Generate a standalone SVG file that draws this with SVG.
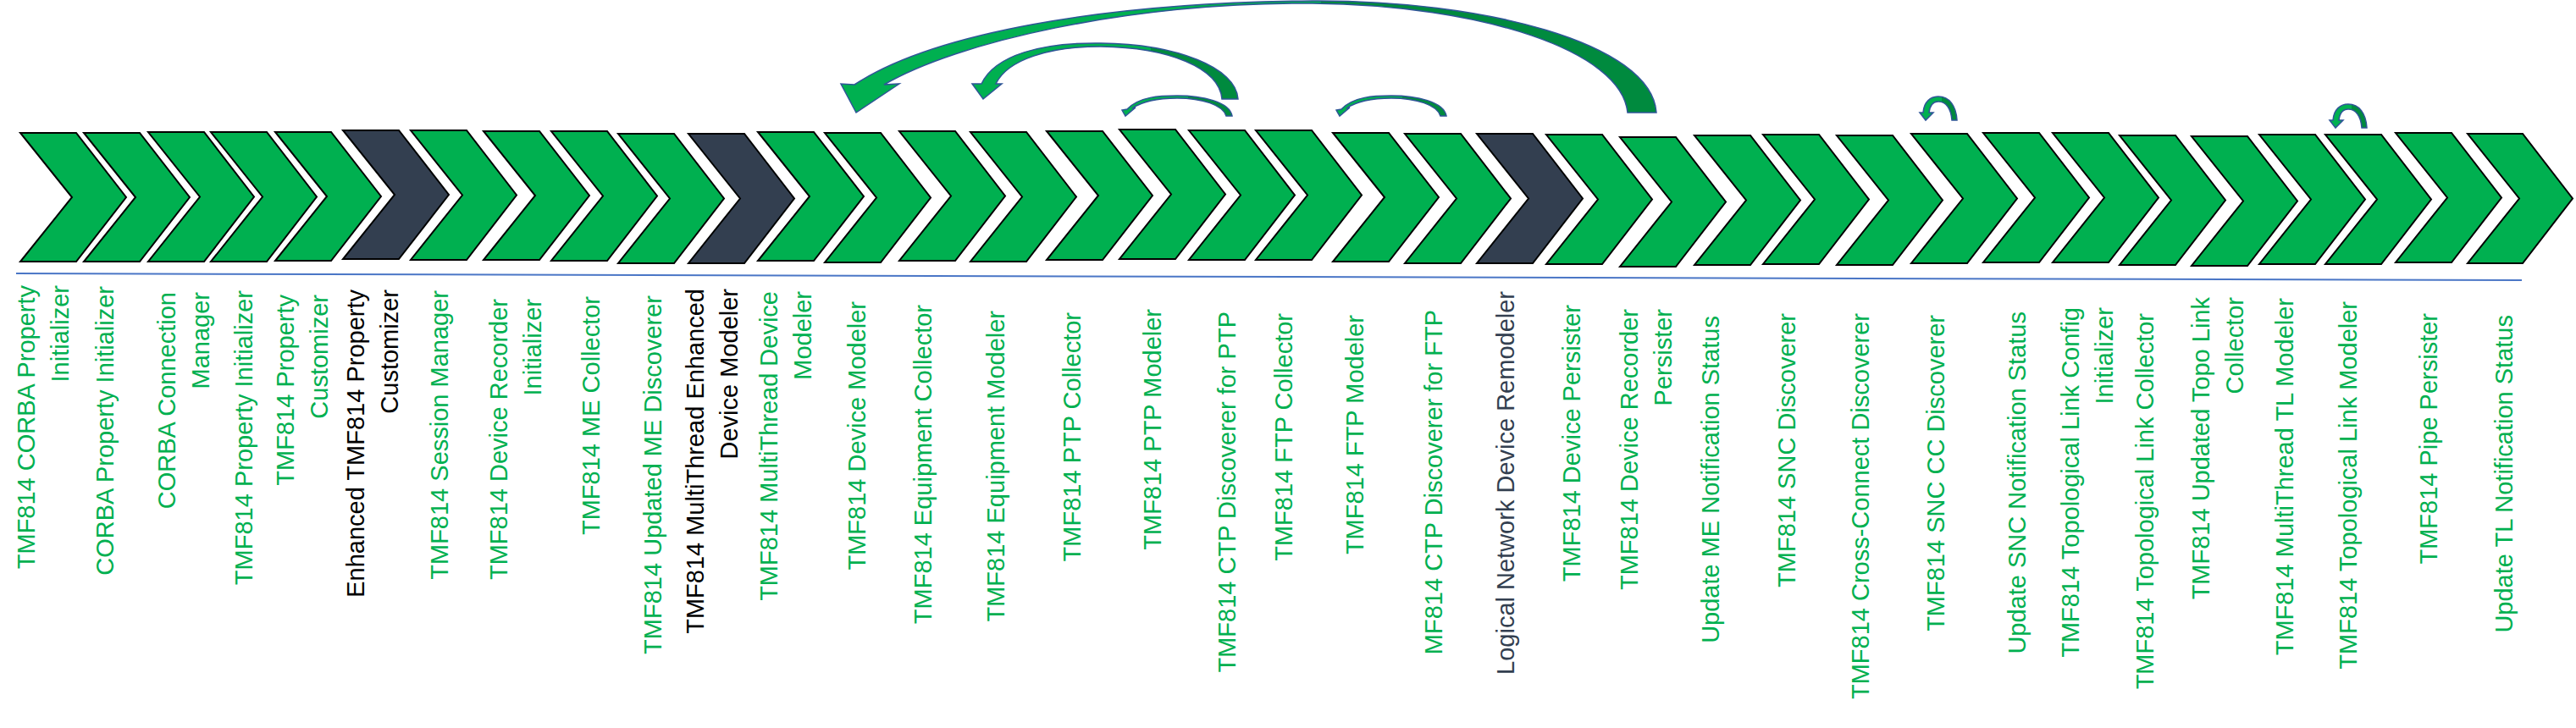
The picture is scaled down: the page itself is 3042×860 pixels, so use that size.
<svg xmlns="http://www.w3.org/2000/svg" width="3042" height="860" viewBox="0 0 3042 860">
<style>
.chev{stroke:#000;stroke-width:2;stroke-linejoin:miter}
.g{fill:#00B050}
.d{fill:#333F50}
.lbl{font-family:"Liberation Sans",Arial,sans-serif;font-size:29px;text-anchor:end}
.tg{fill:#00B050}
.tk{fill:#000}
.td{fill:#333F50}
.arr{stroke:#2F5597;stroke-width:1.5;stroke-linejoin:miter}
</style>
<defs>
<linearGradient id="gBig" gradientUnits="userSpaceOnUse" x1="990" y1="0" x2="1960" y2="0">
<stop offset="0" stop-color="#00B050"/><stop offset="0.588" stop-color="#00B050"/><stop offset="0.588" stop-color="#008A3E"/><stop offset="1" stop-color="#008A3E"/>
</linearGradient>
<linearGradient id="gMed" gradientUnits="userSpaceOnUse" x1="1145" y1="0" x2="1465" y2="0">
<stop offset="0" stop-color="#00B050"/><stop offset="0.67" stop-color="#00B050"/><stop offset="0.67" stop-color="#008A3E"/><stop offset="1" stop-color="#008A3E"/>
</linearGradient>
<linearGradient id="gSm" x1="0" y1="0" x2="1" y2="0">
<stop offset="0" stop-color="#00B050"/><stop offset="0.6" stop-color="#00B050"/><stop offset="0.6" stop-color="#008A3E"/><stop offset="1" stop-color="#008A3E"/>
</linearGradient>
<path id="smallArc" d="M1331,129 C1345,114 1370,113 1390,113 C1420,113 1452,120 1455,137 L1448,137 C1444,124 1420,116 1390,116 C1370,116 1350,119 1337,128 L1341,127 L1329,137 L1325,130 Z"/>
<path id="loopArc" d="M2271,133 C2272,120 2280,114 2289,114 C2302,114 2310,125 2311,142 L2305,142 C2304,128 2298,120 2289,120 C2283,120 2279,125 2278,133 L2283,133 L2274,142 L2267,133 Z"/>
</defs>
<rect width="3042" height="860" fill="#fff"/>
<g id="chevrons">
<g id="n1"><path class="chev g" d="M24,157 L90,157 L149,233 L90,309 L24,309 L85,233 Z"/></g>
<g id="n2"><path class="chev g" d="M99,157 L165,157 L224,233 L165,309 L99,309 L160,233 Z"/></g>
<g id="n3"><path class="chev g" d="M175,156 L241,156 L300,232.5 L241,309 L175,309 L236,232.5 Z"/></g>
<g id="n4"><path class="chev g" d="M249,156 L315,156 L374,232.5 L315,309 L249,309 L310,232.5 Z"/></g>
<g id="n5"><path class="chev g" d="M325,156 L391,156 L450,232 L391,308 L325,308 L386,232 Z"/></g>
<g id="n6"><path class="chev d" d="M405,154 L471,154 L530,230 L471,306 L405,306 L466,230 Z"/></g>
<g id="n7"><path class="chev g" d="M485,154 L551,154 L610,230.5 L551,307 L485,307 L546,230.5 Z"/></g>
<g id="n8"><path class="chev g" d="M571,155 L637,155 L696,231 L637,307 L571,307 L632,231 Z"/></g>
<g id="n9"><path class="chev g" d="M651,155 L717,155 L776,231.5 L717,308 L651,308 L712,231.5 Z"/></g>
<g id="n10"><path class="chev g" d="M730,158 L796,158 L855,234.5 L796,311 L730,311 L791,234.5 Z"/></g>
<g id="n11"><path class="chev d" d="M813,158 L879,158 L938,234.5 L879,311 L813,311 L874,234.5 Z"/></g>
<g id="n12"><path class="chev g" d="M895,156 L961,156 L1020,232 L961,308 L895,308 L956,232 Z"/></g>
<g id="n13"><path class="chev g" d="M974,157 L1040,157 L1099,233.5 L1040,310 L974,310 L1035,233.5 Z"/></g>
<g id="n14"><path class="chev g" d="M1062,155 L1128,155 L1187,231.5 L1128,308 L1062,308 L1123,231.5 Z"/></g>
<g id="n15"><path class="chev g" d="M1146,156 L1212,156 L1271,232.5 L1212,309 L1146,309 L1207,232.5 Z"/></g>
<g id="n16"><path class="chev g" d="M1236,155 L1302,155 L1361,231 L1302,307 L1236,307 L1297,231 Z"/></g>
<g id="n17"><path class="chev g" d="M1322,153 L1388,153 L1447,229.5 L1388,306 L1322,306 L1383,229.5 Z"/></g>
<g id="n18"><path class="chev g" d="M1404,154 L1470,154 L1529,230.5 L1470,307 L1404,307 L1465,230.5 Z"/></g>
<g id="n19"><path class="chev g" d="M1483,154 L1549,154 L1608,230.5 L1549,307 L1483,307 L1544,230.5 Z"/></g>
<g id="n20"><path class="chev g" d="M1574,157 L1640,157 L1699,233 L1640,309 L1574,309 L1635,233 Z"/></g>
<g id="n21"><path class="chev g" d="M1659,158 L1725,158 L1784,234.5 L1725,311 L1659,311 L1720,234.5 Z"/></g>
<g id="n22"><path class="chev d" d="M1744,158 L1810,158 L1869,234.5 L1810,311 L1744,311 L1805,234.5 Z"/></g>
<g id="n23"><path class="chev g" d="M1826,159 L1892,159 L1951,235.5 L1892,312 L1826,312 L1887,235.5 Z"/></g>
<g id="n24"><path class="chev g" d="M1913,162 L1979,162 L2038,238.5 L1979,315 L1913,315 L1974,238.5 Z"/></g>
<g id="n25"><path class="chev g" d="M2001,160 L2067,160 L2126,236.5 L2067,313 L2001,313 L2062,236.5 Z"/></g>
<g id="n26"><path class="chev g" d="M2082,159 L2148,159 L2207,235.5 L2148,312 L2082,312 L2143,235.5 Z"/></g>
<g id="n27"><path class="chev g" d="M2169,160 L2235,160 L2294,236.5 L2235,313 L2169,313 L2230,236.5 Z"/></g>
<g id="n28"><path class="chev g" d="M2257,158 L2323,158 L2382,234.5 L2323,311 L2257,311 L2318,234.5 Z"/></g>
<g id="n29"><path class="chev g" d="M2342,157 L2408,157 L2467,233.5 L2408,310 L2342,310 L2403,233.5 Z"/></g>
<g id="n30"><path class="chev g" d="M2424,157 L2490,157 L2549,233.5 L2490,310 L2424,310 L2485,233.5 Z"/></g>
<g id="n31"><path class="chev g" d="M2503,160 L2569,160 L2628,236.5 L2569,313 L2503,313 L2564,236.5 Z"/></g>
<g id="n32"><path class="chev g" d="M2588,161 L2654,161 L2713,237.5 L2654,314 L2588,314 L2649,237.5 Z"/></g>
<g id="n33"><path class="chev g" d="M2668,159 L2734,159 L2793,235.5 L2734,312 L2668,312 L2729,235.5 Z"/></g>
<g id="n34"><path class="chev g" d="M2746,159 L2812,159 L2871,235.5 L2812,312 L2746,312 L2807,235.5 Z"/></g>
<g id="n35"><path class="chev g" d="M2829,157 L2895,157 L2954,233.5 L2895,310 L2829,310 L2890,233.5 Z"/></g>
<g id="n36"><path class="chev g" d="M2914,158 L2979,158 L3038,234.5 L2979,311 L2914,311 L2975,234.5 Z"/></g>
</g>
<g id="separator"><line x1="19" y1="323" x2="2978" y2="331" stroke="#4A76C6" stroke-width="2"/></g>
<g id="labels">
<g id="t1"><text class="lbl tg" transform="translate(41,337) rotate(-90)"><tspan x="0" y="0">TMF814 CORBA Property</tspan><tspan x="0" y="40">Initializer</tspan></text></g>
<g id="t2"><text class="lbl tg" transform="translate(134,338) rotate(-90)">CORBA Property Initializer</text></g>
<g id="t3"><text class="lbl tg" transform="translate(207,345) rotate(-90)"><tspan x="0" y="0">CORBA Connection</tspan><tspan x="0" y="40">Manager</tspan></text></g>
<g id="t4"><text class="lbl tg" transform="translate(298,343) rotate(-90)">TMF814 Property Initializer</text></g>
<g id="t5"><text class="lbl tg" transform="translate(347,348) rotate(-90)"><tspan x="0" y="0">TMF814 Property</tspan><tspan x="0" y="40">Customizer</tspan></text></g>
<g id="t6"><text class="lbl tk" transform="translate(430,342) rotate(-90)"><tspan x="0" y="0">Enhanced TMF814 Property</tspan><tspan x="0" y="40">Customizer</tspan></text></g>
<g id="t7"><text class="lbl tg" transform="translate(529,343) rotate(-90)">TMF814 Session Manager</text></g>
<g id="t8"><text class="lbl tg" transform="translate(599,353) rotate(-90)"><tspan x="0" y="0">TMF814 Device Recorder</tspan><tspan x="0" y="40">Initializer</tspan></text></g>
<g id="t9"><text class="lbl tg" transform="translate(708,350) rotate(-90)">TMF814 ME Collector</text></g>
<g id="t10"><text class="lbl tg" transform="translate(781,349) rotate(-90)">TMF814 Updated ME Discoverer</text></g>
<g id="t11"><text class="lbl tk" transform="translate(831,341) rotate(-90)"><tspan x="0" y="0">TMF814 MultiThread Enhanced</tspan><tspan x="0" y="40">Device Modeler</tspan></text></g>
<g id="t12"><text class="lbl tg" transform="translate(918,344) rotate(-90)"><tspan x="0" y="0">TMF814 MultiThread Device</tspan><tspan x="0" y="40">Modeler</tspan></text></g>
<g id="t13"><text class="lbl tg" transform="translate(1022,356) rotate(-90)">TMF814 Device Modeler</text></g>
<g id="t14"><text class="lbl tg" transform="translate(1100,360) rotate(-90)">TMF814 Equipment Collector</text></g>
<g id="t15"><text class="lbl tg" transform="translate(1186,367) rotate(-90)">TMF814 Equipment Modeler</text></g>
<g id="t16"><text class="lbl tg" transform="translate(1276,369) rotate(-90)">TMF814 PTP Collector</text></g>
<g id="t17"><text class="lbl tg" transform="translate(1371,365) rotate(-90)">TMF814 PTP Modeler</text></g>
<g id="t18"><text class="lbl tg" transform="translate(1459,368) rotate(-90)">TMF814 CTP Discoverer for PTP</text></g>
<g id="t19"><text class="lbl tg" transform="translate(1526,370) rotate(-90)">TMF814 FTP Collector</text></g>
<g id="t20"><text class="lbl tg" transform="translate(1610,372) rotate(-90)">TMF814 FTP Modeler</text></g>
<g id="t21"><text class="lbl tg" transform="translate(1703,366) rotate(-90)">MF814 CTP Discoverer for FTP</text></g>
<g id="t22"><text class="lbl td" transform="translate(1788,344) rotate(-90)">Logical Network Device Remodeler</text></g>
<g id="t23"><text class="lbl tg" transform="translate(1866,360) rotate(-90)">TMF814 Device Persister</text></g>
<g id="t24"><text class="lbl tg" transform="translate(1934,365) rotate(-90)"><tspan x="0" y="0">TMF814 Device Recorder</tspan><tspan x="0" y="40">Persister</tspan></text></g>
<g id="t25"><text class="lbl tg" transform="translate(2030,373) rotate(-90)">Update ME Notification Status</text></g>
<g id="t26"><text class="lbl tg" transform="translate(2120,370) rotate(-90)">TMF814 SNC Discoverer</text></g>
<g id="t27"><text class="lbl tg" transform="translate(2207,370) rotate(-90)">TMF814 Cross-Connect Discoverer</text></g>
<g id="t28"><text class="lbl tg" transform="translate(2296,372) rotate(-90)">TMF814 SNC CC Discoverer</text></g>
<g id="t29"><text class="lbl tg" transform="translate(2392,368) rotate(-90)">Update SNC Notification Status</text></g>
<g id="t30"><text class="lbl tg" transform="translate(2455,363) rotate(-90)"><tspan x="0" y="0">TMF814 Topological Link Config</tspan><tspan x="0" y="40">Initializer</tspan></text></g>
<g id="t31"><text class="lbl tg" transform="translate(2543,370) rotate(-90)">TMF814 Topological Link Collector</text></g>
<g id="t32"><text class="lbl tg" transform="translate(2609,351) rotate(-90)"><tspan x="0" y="0">TMF814 Updated Topo Link</tspan><tspan x="0" y="40">Collector</tspan></text></g>
<g id="t33"><text class="lbl tg" transform="translate(2708,352) rotate(-90)">TMF814 MultiThread TL Modeler</text></g>
<g id="t34"><text class="lbl tg" transform="translate(2783,356) rotate(-90)">TMF814 Topological Link Modeler</text></g>
<g id="t35"><text class="lbl tg" transform="translate(2878,370) rotate(-90)">TMF814 Pipe Persister</text></g>
<g id="t36"><text class="lbl tg" transform="translate(2967,372) rotate(-90)">Update TL Notification Status</text></g>
</g>
<g id="connectors">
<path id="a-big" class="arr" fill="url(#gBig)" d="M1009,100 C1100,40 1300,3 1550,1 C1750,0 1950,50 1956,133 L1922,133 C1915,60 1750,6 1550,4 C1330,3 1130,50 1044,100 L1062,99 L1011,133 L993,99 Z"/>
<path id="a-med" class="arr" fill="url(#gMed)" d="M1159,99 C1175,65 1230,50 1300,51 C1390,52 1460,80 1462,117 L1443,117 C1440,80 1380,56 1300,55 C1240,55 1190,70 1176,99 L1183,99 L1161,117 L1148,99 Z"/>
<use id="a-sm1" href="#smallArc" class="arr" fill="url(#gSm)"/>
<use id="a-sm2" href="#smallArc" class="arr" fill="url(#gSm)" transform="translate(253,0)"/>
<use id="a-loop1" href="#loopArc" class="arr" fill="url(#gSm)"/>
<use id="a-loop2" href="#loopArc" class="arr" fill="url(#gSm)" transform="translate(484,9)"/>
</g>
</svg>
